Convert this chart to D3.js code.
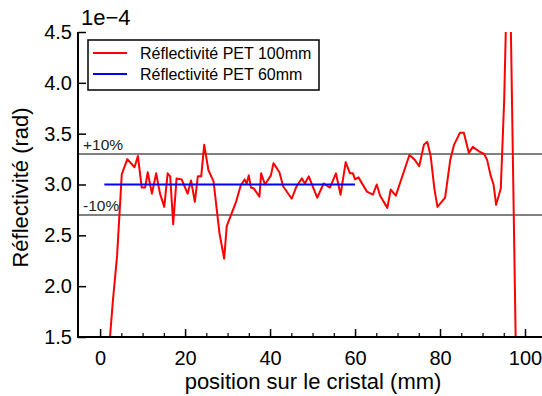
<!DOCTYPE html>
<html><head><meta charset="utf-8">
<script src="https://cdn.jsdelivr.net/npm/d3@7"></script>
<style>
html,body{margin:0;padding:0;background:#fff;}
svg{display:block;font-family:"Liberation Sans",Arial,sans-serif;}
</style></head>
<body>
<svg id="chart" width="542" height="396"></svg>
<script>
// Data (values in units of 1e-4 rad)
const redX = [1,3,4,5.1,6.4,8.1,8.9,9.8,10.6,11.2,12.2,13.2,14.1,15.1,15.9,16.5,17.2,18.0,19.2,20.6,21.4,22.3,23.0,23.8,24.5,25.5,26.7,28.1,29.2,29.8,32.0,33.1,34.0,34.5,35.0,35.5,36.2,37.5,37.9,38.8,40.2,40.8,42.2,43.1,45.1,46.1,47.0,47.5,48.2,49.1,51.1,52.6,54.1,55.5,56.6,57.8,58.8,59.5,60.0,60.8,62.8,64.2,65.1,65.9,67.6,68.4,69.6,72.8,74.1,75.1,76.2,77.0,77.8,78.7,79.4,81.2,82.4,83.3,84.7,85.6,86.8,87.7,89.4,90.4,91.1,91.9,92.6,93.2,94.3,95.1,96.2,97.8,98.5];
const redY = [0.8,1.85,2.3,3.1,3.25,3.17,3.28,2.97,2.97,3.12,2.91,3.11,2.91,2.78,3.11,3.08,2.61,3.06,3.05,2.91,3.04,2.83,3.08,3.08,3.39,3.14,3.03,2.52,2.27,2.59,2.83,2.99,3.05,3.01,3.09,2.97,2.96,2.88,3.11,3.00,3.09,3.21,3.12,2.98,2.86,2.97,3.03,3.06,3.01,3.08,2.87,3.01,2.97,3.11,2.90,3.22,3.11,3.11,3.05,3.07,2.93,2.90,3.00,2.89,2.77,2.95,2.89,3.29,3.24,3.18,3.39,3.42,3.28,2.95,2.78,2.87,3.24,3.39,3.51,3.51,3.31,3.37,3.32,3.30,3.24,3.09,3.00,2.80,2.96,3.83,5.8,1.5,0.5];
const blueX = [1,60];
const blueY = [3.0,3.0];
const refLevels = [3.3, 2.7];
const refLabels = ["+10%", "-10%"];
const seriesNames = ["Réflectivité PET 100mm", "Réflectivité PET 60mm"];
const seriesColors = ["#ff0000", "#0000ff"];
const xTicks = [0,20,40,60,80,100];
const xMinorTicks = d3.range(5,100,5).filter(v => v % 20 !== 0);
const yTicks = [1.5,2.0,2.5,3.0,3.5,4.0,4.5];

const svg = d3.select("#chart");
const L = 78, R = 542, T = 32, B = 337;
const x = d3.scaleLinear().domain([-5.2, 104]).range([L, R]);
const y = d3.scaleLinear().domain([1.5, 4.5]).range([B, T]);

svg.append("defs").append("clipPath").attr("id","clip")
  .append("rect").attr("x",L).attr("y",T).attr("width",R-L).attr("height",B-T);

// reference lines
const g = svg.append("g");
g.selectAll("line.ref").data(refLevels).join("line")
  .attr("x1",L).attr("x2",R).attr("y1",d=>y(d)).attr("y2",d=>y(d))
  .attr("stroke","#808080").attr("stroke-width",2);
g.selectAll("text.ref").data(refLevels).join("text")
  .attr("x",83).attr("y",d=>y(d)-4)
  .attr("font-size","15.5px").attr("fill","#222")
  .text((d,i)=>refLabels[i]);

const line = d3.line().x(d=>x(d[0])).y(d=>y(d[1]));
const red = redX.map((v,i)=>[v, redY[i]]);
const blue = blueX.map((v,i)=>[v, blueY[i]]);
const plot = svg.append("g").attr("clip-path","url(#clip)");
plot.append("path").datum(red).attr("d",line).attr("fill","none")
  .attr("stroke",seriesColors[0]).attr("stroke-width",2).attr("stroke-linejoin","round");
plot.append("path").datum(blue).attr("d",line).attr("fill","none")
  .attr("stroke",seriesColors[1]).attr("stroke-width",2);

// axes
const xAxis = d3.axisBottom(x).tickValues(xTicks).tickSize(-8).tickPadding(14).tickFormat(d3.format("d"));
const xg = svg.append("g").attr("transform",`translate(0,${B})`).call(xAxis);
xg.select(".domain").remove();
xg.selectAll(".tick line").attr("stroke","#000").attr("stroke-width",1.5);
xg.selectAll(".tick text").attr("font-size","20px").attr("fill","#000").attr("font-family","Liberation Sans, Arial, sans-serif");
const xm = d3.axisBottom(x).tickValues(xMinorTicks).tickSize(-4).tickFormat("");
const xmg = svg.append("g").attr("transform",`translate(0,${B})`).call(xm);
xmg.select(".domain").remove();
xmg.selectAll(".tick line").attr("stroke","#000").attr("stroke-width",1.2);

const yAxis = d3.axisLeft(y).tickValues(yTicks).tickSize(-8).tickPadding(6).tickFormat(d3.format(".1f"));
const yg = svg.append("g").attr("transform",`translate(${L},0)`).call(yAxis);
yg.select(".domain").remove();
yg.selectAll(".tick line").attr("stroke","#000").attr("stroke-width",1.5);
yg.selectAll(".tick text").attr("font-size","20px").attr("fill","#000").attr("font-family","Liberation Sans, Arial, sans-serif");

svg.append("line").attr("x1",L).attr("x2",R).attr("y1",B).attr("y2",B).attr("stroke","#000").attr("stroke-width",2);
svg.append("line").attr("x1",L).attr("x2",L).attr("y1",T).attr("y2",B+1).attr("stroke","#000").attr("stroke-width",2);

// titles
svg.append("text").attr("x",(L+R)/2+3).attr("y",389).attr("text-anchor","middle")
  .attr("font-size","22px").text("position sur le cristal (mm)");
svg.append("text").attr("transform",`translate(28,${(T+B)/2+3}) rotate(-90)`).attr("text-anchor","middle")
  .attr("font-size","22px").text("Réflectivité (rad)");
svg.append("text").attr("x",81).attr("y",25).attr("font-size","22px").text("1e\u22124");

// legend
const lg = svg.append("g");
lg.append("rect").attr("x",88).attr("y",40).attr("width",231).attr("height",50)
  .attr("fill","#fff").attr("stroke","#000").attr("stroke-width",1.5);
seriesNames.forEach((n,i)=>{
  const yy = 53 + i*21;
  lg.append("line").attr("x1",93).attr("x2",127).attr("y1",yy).attr("y2",yy)
    .attr("stroke",seriesColors[i]).attr("stroke-width",2);
  lg.append("text").attr("x",140).attr("y",yy+5.5).attr("font-size","16px").text(n);
});
</script>
</body></html>
